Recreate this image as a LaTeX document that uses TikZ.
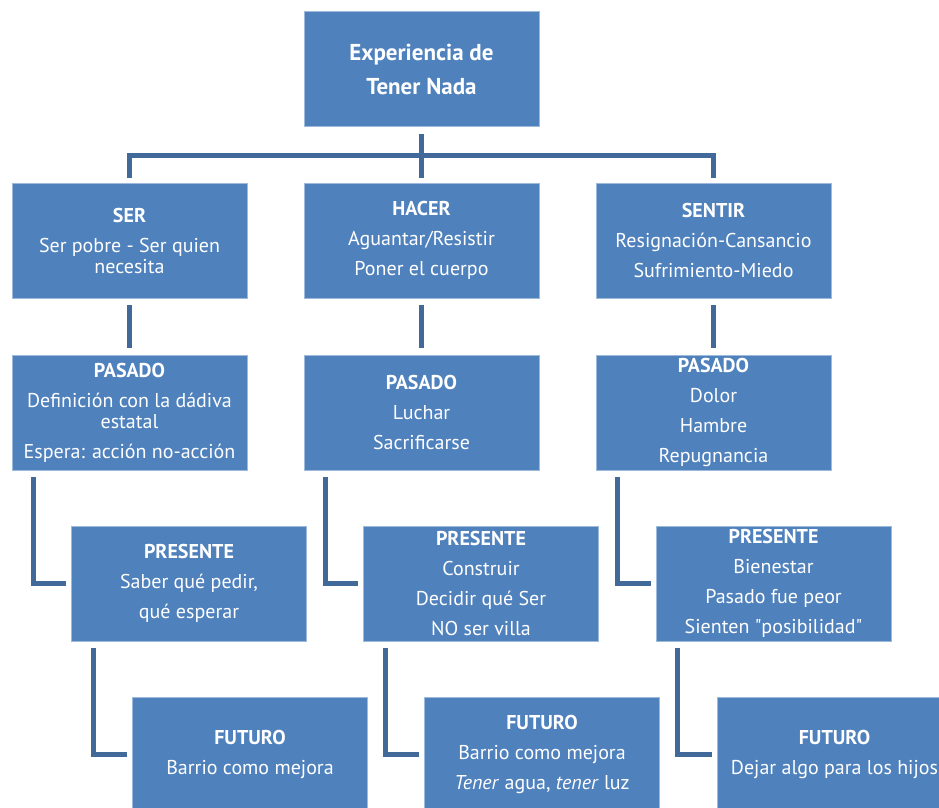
\documentclass[tikz,border=0pt]{standalone}
\usepackage{fontspec}
\setmainfont{PT Sans}
\usetikzlibrary{calc}
\definecolor{boxblue}{HTML}{4F81BD}
\definecolor{lineblue}{HTML}{41699A}
\tikzset{
  box/.style={rectangle, fill=boxblue, draw=boxblue!55!white, line width=0.8pt,
    minimum width=235pt, minimum height=115pt, inner sep=0pt, align=center,
    text=white, font=\fontsize{20}{21}\selectfont},
  topbox/.style={box, font=\bfseries\fontsize{23}{34}\selectfont},
  conn/.style={draw=lineblue, line width=5pt}
}
\newcommand{\gp}{\\[9pt]}
\newcommand{\sq}{\XeTeXglyph\XeTeXcharglyph"22\relax}
\begin{document}
\begin{tikzpicture}[x=1pt,y=-1pt]
\useasboundingbox (0,0) rectangle (939,807);
\clip (0,0) rectangle (939,807);
\node[topbox] (top) at (421.5,69) {Experiencia de\\Tener Nada};
\node[box] (ser) at (129.5,240.5) {\textbf{SER}\gp Ser pobre - Ser quien\\necesita};
\node[box] (hacer) at (421.5,240.5) {\textbf{HACER}\gp Aguantar/Resistir\gp Poner el cuerpo};
\node[box] (sentir) at (713.5,240.5) {\textbf{SENTIR}\gp Resignación-Cansancio\gp Sufrimiento-Miedo};
\node[box] (pas1) at (129.5,412.5) {\textbf{PASADO}\gp Definición con la dádiva\\estatal\gp Espera: acción no-acción};
\node[box] (pas2) at (421.5,412.5) {\textbf{PASADO}\gp Luchar\gp Sacrificarse};
\node[box] (pas3) at (713.5,412.5) {\textbf{PASADO}\gp Dolor\gp Hambre\gp Repugnancia};
\node[box] (pre1) at (189,583.5) {\textbf{PRESENTE}\gp Saber qué pedir,\gp qué esperar};
\node[box] (pre2) at (481,583.5) {\textbf{PRESENTE}\gp Construir\gp Decidir qué Ser\gp NO ser villa};
\node[box] (pre3) at (773.5,583.5) {\textbf{PRESENTE}\gp Bienestar\gp Pasado fue peor\gp Sienten \sq posibilidad\sq};
\node[box] (fut1) at (250,754.5) {\textbf{FUTURO}\gp Barrio como mejora};
\node[box] (fut2) at (542,754.5) {\textbf{FUTURO}\gp Barrio como mejora\gp \textit{Tener} agua, \textit{tener} luz};
\node[box] (fut3) at (834.5,754.5) {\textbf{FUTURO}\gp Dejar algo para los hijos};
% bus
\draw[conn] ($(top.south)+(0,7)$) -- ($(hacer.north)+(0,-5)$);
\draw[conn] ($(ser.north)+(0,-5)$) |- (421.5,155) -| ($(sentir.north)+(0,-5)$);
% level 1 to pasado
\foreach \a/\b in {ser/pas1,hacer/pas2,sentir/pas3}
  \draw[conn] ($(\a.south)+(0,7)$) -- ($(\b.north)+(0,-7)$);
% elbows
\foreach \a/\b in {pas1/pre1,pas2/pre2,pas3/pre3,pre1/fut1,pre2/fut2,pre3/fut3}
  \draw[conn] ($(\a.south west)+(22,7)$) |- ($(\b.west)+(-5,0)$);
\end{tikzpicture}
\end{document}
